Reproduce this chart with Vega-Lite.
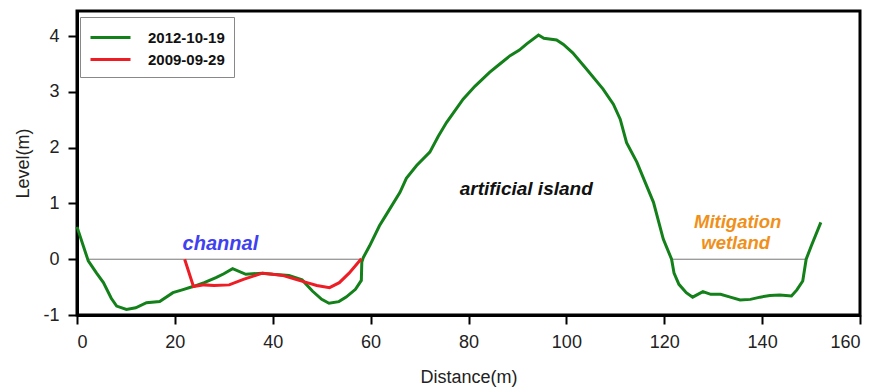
{
  "$schema": "https://vega.github.io/schema/vega-lite/v6.json",
  "width": 783,
  "height": 304,
  "autosize": {"type": "none"},
  "padding": {"left": 77, "top": 11, "right": 19, "bottom": 75},
  "background": "white",
  "config": {
    "view": {"stroke": "black", "strokeWidth": 3},
    "font": "Liberation Sans",
    "axis": {
      "domainColor": "black", "domainWidth": 3, "tickColor": "black", "tickWidth": 2, "tickSize": 9,
      "labelFontSize": 18, "labelColor": "#222", "titleFontSize": 18, "titleFontWeight": "normal", "titleColor": "#222", "grid": false
    }
  },
  "datasets": {
    "profiles": [
      {"date": "2012-10-19", "d": 0, "z": 0.58},
      {"date": "2012-10-19", "d": 2.3, "z": -0.03},
      {"date": "2012-10-19", "d": 4, "z": -0.25},
      {"date": "2012-10-19", "d": 5.4, "z": -0.42},
      {"date": "2012-10-19", "d": 7, "z": -0.7},
      {"date": "2012-10-19", "d": 8.1, "z": -0.84},
      {"date": "2012-10-19", "d": 10.1, "z": -0.9},
      {"date": "2012-10-19", "d": 12, "z": -0.87},
      {"date": "2012-10-19", "d": 14.2, "z": -0.78},
      {"date": "2012-10-19", "d": 16.9, "z": -0.76},
      {"date": "2012-10-19", "d": 19.6, "z": -0.6},
      {"date": "2012-10-19", "d": 21.5, "z": -0.55},
      {"date": "2012-10-19", "d": 23.7, "z": -0.49},
      {"date": "2012-10-19", "d": 26, "z": -0.42},
      {"date": "2012-10-19", "d": 28.4, "z": -0.33},
      {"date": "2012-10-19", "d": 30, "z": -0.26},
      {"date": "2012-10-19", "d": 31.8, "z": -0.17},
      {"date": "2012-10-19", "d": 34.5, "z": -0.27},
      {"date": "2012-10-19", "d": 37.9, "z": -0.25},
      {"date": "2012-10-19", "d": 40, "z": -0.27},
      {"date": "2012-10-19", "d": 43.3, "z": -0.29},
      {"date": "2012-10-19", "d": 46, "z": -0.37},
      {"date": "2012-10-19", "d": 48.1, "z": -0.57},
      {"date": "2012-10-19", "d": 50, "z": -0.72},
      {"date": "2012-10-19", "d": 51.5, "z": -0.79},
      {"date": "2012-10-19", "d": 53.5, "z": -0.76},
      {"date": "2012-10-19", "d": 55, "z": -0.68},
      {"date": "2012-10-19", "d": 56.9, "z": -0.54},
      {"date": "2012-10-19", "d": 58.1, "z": -0.38},
      {"date": "2012-10-19", "d": 58.2, "z": -0.05},
      {"date": "2012-10-19", "d": 58.5, "z": 0.03},
      {"date": "2012-10-19", "d": 59.8, "z": 0.24},
      {"date": "2012-10-19", "d": 61.8, "z": 0.6},
      {"date": "2012-10-19", "d": 63.2, "z": 0.8},
      {"date": "2012-10-19", "d": 66, "z": 1.2},
      {"date": "2012-10-19", "d": 67.3, "z": 1.45},
      {"date": "2012-10-19", "d": 69.4, "z": 1.68},
      {"date": "2012-10-19", "d": 72.1, "z": 1.92},
      {"date": "2012-10-19", "d": 73.8, "z": 2.2},
      {"date": "2012-10-19", "d": 75.5, "z": 2.45},
      {"date": "2012-10-19", "d": 78.9, "z": 2.87},
      {"date": "2012-10-19", "d": 81.3, "z": 3.1},
      {"date": "2012-10-19", "d": 84.3, "z": 3.35},
      {"date": "2012-10-19", "d": 86.4, "z": 3.5},
      {"date": "2012-10-19", "d": 88.5, "z": 3.65},
      {"date": "2012-10-19", "d": 90.4, "z": 3.75},
      {"date": "2012-10-19", "d": 91.9, "z": 3.86},
      {"date": "2012-10-19", "d": 94.3, "z": 4.02},
      {"date": "2012-10-19", "d": 95.4, "z": 3.96},
      {"date": "2012-10-19", "d": 98, "z": 3.93},
      {"date": "2012-10-19", "d": 99.4, "z": 3.85},
      {"date": "2012-10-19", "d": 101.3, "z": 3.7},
      {"date": "2012-10-19", "d": 104.1, "z": 3.41},
      {"date": "2012-10-19", "d": 107.5, "z": 3.05},
      {"date": "2012-10-19", "d": 109.6, "z": 2.78},
      {"date": "2012-10-19", "d": 111, "z": 2.51},
      {"date": "2012-10-19", "d": 112.3, "z": 2.09},
      {"date": "2012-10-19", "d": 114.4, "z": 1.74},
      {"date": "2012-10-19", "d": 116, "z": 1.4},
      {"date": "2012-10-19", "d": 117.8, "z": 1.02},
      {"date": "2012-10-19", "d": 119.8, "z": 0.36},
      {"date": "2012-10-19", "d": 121.5, "z": 0.0},
      {"date": "2012-10-19", "d": 122, "z": -0.25},
      {"date": "2012-10-19", "d": 123, "z": -0.45},
      {"date": "2012-10-19", "d": 124.5, "z": -0.6},
      {"date": "2012-10-19", "d": 125.8, "z": -0.68},
      {"date": "2012-10-19", "d": 127.9, "z": -0.58},
      {"date": "2012-10-19", "d": 129.5, "z": -0.63},
      {"date": "2012-10-19", "d": 131.5, "z": -0.63},
      {"date": "2012-10-19", "d": 133.5, "z": -0.68},
      {"date": "2012-10-19", "d": 135.5, "z": -0.73},
      {"date": "2012-10-19", "d": 137.6, "z": -0.72},
      {"date": "2012-10-19", "d": 139.6, "z": -0.68},
      {"date": "2012-10-19", "d": 141.6, "z": -0.65},
      {"date": "2012-10-19", "d": 143.6, "z": -0.64},
      {"date": "2012-10-19", "d": 146, "z": -0.66},
      {"date": "2012-10-19", "d": 147.1, "z": -0.55},
      {"date": "2012-10-19", "d": 148.3, "z": -0.39},
      {"date": "2012-10-19", "d": 149, "z": 0.0},
      {"date": "2012-10-19", "d": 150.1, "z": 0.25},
      {"date": "2012-10-19", "d": 152, "z": 0.66},
      {"date": "2009-09-29", "d": 22, "z": 0.0},
      {"date": "2009-09-29", "d": 23.8, "z": -0.49},
      {"date": "2009-09-29", "d": 26, "z": -0.46},
      {"date": "2009-09-29", "d": 28, "z": -0.47},
      {"date": "2009-09-29", "d": 31.1, "z": -0.46},
      {"date": "2009-09-29", "d": 34, "z": -0.36},
      {"date": "2009-09-29", "d": 37.9, "z": -0.25},
      {"date": "2009-09-29", "d": 40, "z": -0.27},
      {"date": "2009-09-29", "d": 42, "z": -0.29},
      {"date": "2009-09-29", "d": 44.7, "z": -0.36},
      {"date": "2009-09-29", "d": 47, "z": -0.42},
      {"date": "2009-09-29", "d": 49, "z": -0.47},
      {"date": "2009-09-29", "d": 51.6, "z": -0.51},
      {"date": "2009-09-29", "d": 53.6, "z": -0.42},
      {"date": "2009-09-29", "d": 55.6, "z": -0.25},
      {"date": "2009-09-29", "d": 58.1, "z": 0.01}
    ]
  },
  "layer": [
    {
      "data": {"values": [{"d1": 2.3, "d2": 58.3, "z": 0}, {"d1": 121.3, "d2": 148.8, "z": 0}]},
      "mark": {"type": "rule", "color": "#777", "strokeWidth": 1},
      "encoding": {
        "x": {"field": "d1", "type": "quantitative"},
        "x2": {"field": "d2"},
        "y": {"field": "z", "type": "quantitative"}
      }
    },
    {
      "data": {"name": "profiles"},
      "transform": [{"filter": "datum.date === '2012-10-19'"}],
      "mark": {"type": "line", "strokeWidth": 3},
      "encoding": {
        "x": {"field": "d", "type": "quantitative", "scale": {"domain": [0, 160], "nice": false},
          "axis": {"title": "Distance(m)", "values": [0, 20, 40, 60, 80, 100, 120, 140, 160], "labelExpr": "'' + datum.value", "labelPadding": 9, "titlePadding": 17}},
        "y": {"field": "z", "type": "quantitative", "scale": {"domain": [-1, 4.45], "nice": false, "zero": false},
          "axis": {"title": "Level(m)", "values": [-1, 0, 1, 2, 3, 4], "labelExpr": "'' + datum.value", "labelPadding": 9, "titlePadding": 10}},
        "color": {"field": "date", "type": "nominal",
          "scale": {"domain": ["2012-10-19", "2009-09-29"], "range": ["#13801a", "#ee1c24"]},
          "legend": {"title": null, "orient": "none", "legendX": 3, "legendY": 6, "symbolType": "M-1,0H3", "symbolSize": 400,
            "symbolStrokeWidth": 3, "labelFontSize": 15, "labelFontWeight": "bold", "labelColor": "#111",
            "strokeColor": "#888", "fillColor": "white", "padding": 9, "rowPadding": 2, "labelOffset": 36}},
        "order": {"field": "d", "type": "quantitative"}
      }
    },
    {
      "data": {"name": "profiles"},
      "transform": [{"filter": "datum.date === '2009-09-29'"}],
      "mark": {"type": "line", "strokeWidth": 3},
      "encoding": {
        "x": {"field": "d", "type": "quantitative"},
        "y": {"field": "z", "type": "quantitative"},
        "color": {"field": "date", "type": "nominal"},
        "order": {"field": "d", "type": "quantitative"}
      }
    },
    {
      "data": {"values": [{"d": 29.3, "z": 0.27, "label": "channal"}]},
      "mark": {"type": "text", "fontSize": 20, "fontWeight": "bold", "fontStyle": "italic", "color": "#4040f0"},
      "encoding": {"x": {"field": "d", "type": "quantitative"}, "y": {"field": "z", "type": "quantitative"}, "text": {"field": "label"}}
    },
    {
      "data": {"values": [{"d": 91.8, "z": 1.26, "label": "artificial island"}]},
      "mark": {"type": "text", "fontSize": 19, "fontWeight": "bold", "fontStyle": "italic", "color": "#111"},
      "encoding": {"x": {"field": "d", "type": "quantitative"}, "y": {"field": "z", "type": "quantitative"}, "text": {"field": "label"}}
    },
    {
      "data": {"values": [{"d": 135, "z": 0.66, "label": "Mitigation"}, {"d": 134.6, "z": 0.29, "label": "wetland"}]},
      "mark": {"type": "text", "fontSize": 18.5, "fontWeight": "bold", "fontStyle": "italic", "color": "#f0901a"},
      "encoding": {"x": {"field": "d", "type": "quantitative"}, "y": {"field": "z", "type": "quantitative"}, "text": {"field": "label"}}
    }
  ]
}
